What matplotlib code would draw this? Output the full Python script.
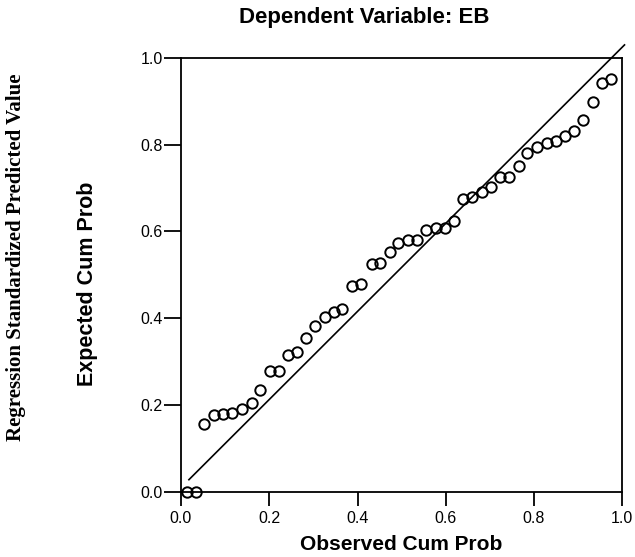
import matplotlib.pyplot as plt

# observed vs expected cumulative probabilities
obs = [0.014, 0.034, 0.053, 0.075, 0.096, 0.116, 0.139, 0.160, 0.180, 0.201,
       0.221, 0.242, 0.263, 0.283, 0.304, 0.326, 0.347, 0.365, 0.388, 0.409,
       0.432, 0.450, 0.473, 0.491, 0.514, 0.534, 0.555, 0.578, 0.598, 0.619,
       0.639, 0.660, 0.683, 0.703, 0.724, 0.744, 0.765, 0.785, 0.806, 0.829,
       0.849, 0.870, 0.890, 0.911, 0.934, 0.954, 0.975]
exp = [0.0, 0.0, 0.157, 0.177, 0.180, 0.182, 0.191, 0.205, 0.235, 0.279,
       0.279, 0.316, 0.323, 0.355, 0.382, 0.403, 0.415, 0.422, 0.475, 0.479,
       0.525, 0.528, 0.553, 0.574, 0.581, 0.581, 0.604, 0.608, 0.608, 0.624,
       0.675, 0.680, 0.691, 0.703, 0.726, 0.726, 0.751, 0.781, 0.795, 0.804,
       0.809, 0.820, 0.832, 0.857, 0.899, 0.942, 0.952]

# reference line (drawn slightly offset, as in the scan)
line_x = [0.018, 1.005]
line_y = [0.028, 1.03]

ticks = [0.0, 0.2, 0.4, 0.6, 0.8, 1.0]

fig = plt.figure(figsize=(6.35, 5.57), dpi=100)
ax = fig.add_axes([0.285, 0.117, 0.695, 0.779])

ax.plot(line_x, line_y, color='black', lw=1.2, clip_on=False, zorder=2)
ax.plot(obs, exp, 'o', mfc='none', mec='black', ms=7.5, mew=1.4,
        clip_on=False, zorder=3)

ax.set_xlim(0, 1)
ax.set_ylim(0, 1)
ax.set_xticks(ticks)
ax.set_yticks(ticks)
ax.set_xticklabels(['%.1f' % t for t in ticks])
ax.set_yticklabels(['%.1f' % t for t in ticks])
ax.tick_params(direction='out', width=1.3, labelsize=11.5)
ax.tick_params(axis='x', length=10, pad=4)
ax.tick_params(axis='y', length=12, pad=1)
for lab in ax.get_xticklabels() + ax.get_yticklabels():
    lab.set_family('Liberation Sans')
for s in ax.spines.values():
    s.set_linewidth(1.3)

fig.text(0.573, 0.968, 'Dependent Variable: EB', family='Liberation Sans',
         fontweight='bold', fontsize=16, ha='center', va='center')
ax.set_xlabel('Observed Cum Prob', family='Liberation Sans',
              fontweight='bold', fontsize=15)
ax.xaxis.set_label_coords(0.5, -0.099)
ax.set_ylabel('Expected Cum Prob', family='Liberation Sans',
              fontweight='bold', fontsize=15.5)
ax.yaxis.set_label_coords(-0.188, 0.48)

fig.text(0.025, 0.538, 'Regression Standardized Predicted Value',
         family='Liberation Serif', fontweight='bold', fontsize=15,
         rotation=90, ha='center', va='center')

fig.savefig('out.png', dpi=100)
